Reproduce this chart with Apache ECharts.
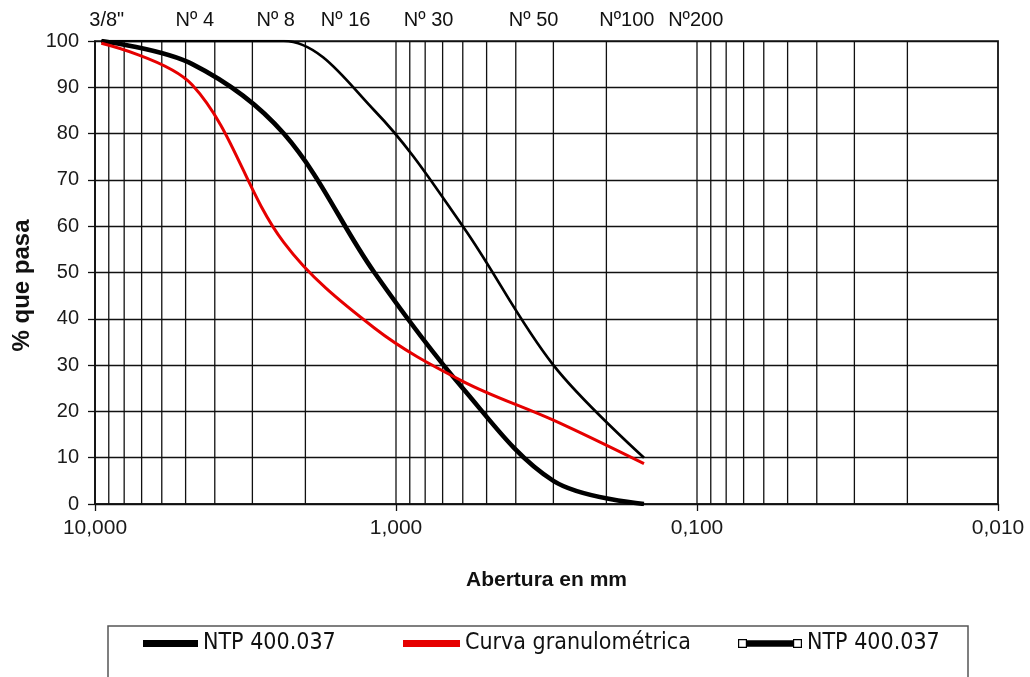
<!DOCTYPE html>
<html>
<head>
<meta charset="utf-8">
<script src="https://cdn.jsdelivr.net/npm/echarts@6/dist/echarts.min.js"></script>
<style>
  html, body { margin: 0; padding: 0; background: #ffffff; }
  #chart { width: 1030px; height: 677px; }
</style>
</head>
<body>
<div id="chart"></div>
<script>
// Sieve openings (mm) and percent passing
const sieveMm      = [9.525, 4.75, 2.36, 1.18, 0.6, 0.3, 0.15];
const lowerLimit   = [100, 95, 80, 50, 25, 5, 0];        // NTP 400.037 lower band
const passing      = [99.5, 90.5, 56.5, 38, 26.5, 18.1, 8.7]; // grading curve
const upperLimit   = [100, 100, 100, 85, 60, 30, 10];   // NTP 400.037 upper band

// Sieve names printed above the plot
const sieveNames   = ['3/8"', 'Nº 4', 'Nº 8', 'Nº 16', 'Nº 30', 'Nº 50', 'Nº100', 'Nº200'];
// Opening (mm) over which each sieve name is centred
const sieveLabelAt = [9.14, 4.66, 2.51, 1.47, 0.779, 0.349, 0.171, 0.101];

const xMin = 0.01, xMax = 10;

// Log-cycle grid: 1..9 in every decade plus the upper bound
const logGrid = [];
[0.01, 0.1, 1].forEach(function (d) {
  for (let k = 1; k <= 9; k++) logGrid.push(+(d * k).toPrecision(6));
});
logGrid.push(xMax);

const pair = (xs, ys) => xs.map((x, i) => [x, ys[i]]);

const TXT = '"Liberation Sans", Arial, sans-serif';
const NARROW = '"Liberation Sans Narrow", "DejaVu Sans Condensed", sans-serif';

const chart = echarts.init(document.getElementById('chart'), null, { renderer: 'canvas' });

const legendText = { fontFamily: NARROW, fontSize: 23, color: '#111' };

chart.setOption({
  backgroundColor: '#ffffff',
  animation: false,
  grid: {
    left: 95, right: 32, top: 41, bottom: 173,
    show: true, borderColor: '#555', borderWidth: 2, backgroundColor: 'transparent'
  },
  xAxis: {
    type: 'log', logBase: 10, min: xMin, max: xMax, inverse: true,
    name: 'Abertura en mm', nameLocation: 'middle', nameGap: 66,
    nameTextStyle: { fontFamily: TXT, fontSize: 21, fontWeight: 'bold', color: '#111' },
    axisLine: { show: true, lineStyle: { color: '#111', width: 1.5 } },
    axisTick: { show: true, length: 7, inside: false, lineStyle: { color: '#111', width: 1.3 } },
    splitLine: { show: false },
    axisLabel: {
      margin: 14, fontFamily: TXT, fontSize: 21, color: '#1a1a1a',
      formatter: v => v.toFixed(3).replace('.', ',')
    }
  },
  yAxis: {
    type: 'value', min: 0, max: 100, interval: 10,
    name: '% que pasa', nameLocation: 'middle', nameGap: 61, nameRotate: 90,
    nameTextStyle: { fontFamily: TXT, fontSize: 24, fontWeight: 'bold', color: '#111', padding: [0, 26, 0, 0] },
    axisLine: { show: true, lineStyle: { color: '#111', width: 1.5 } },
    axisTick: { show: true, length: 7, inside: false, lineStyle: { color: '#111', width: 1.3 } },
    splitLine: { show: true, lineStyle: { color: '#111', width: 1.3 } },
    axisLabel: { margin: 16, fontFamily: TXT, fontSize: 20, color: '#1a1a1a' }
  },
  legend: [
    {
      left: 143, top: 632, padding: 0, orient: 'horizontal', selectedMode: false,
      itemWidth: 55, itemHeight: 7, itemStyle: { borderWidth: 0 },
      textStyle: legendText,
      data: [{ name: 'NTP 400.037', icon: 'rect' }]
    },
    {
      left: 403, top: 632, padding: 0, selectedMode: false,
      itemWidth: 57, itemHeight: 7, itemStyle: { borderWidth: 0 },
      textStyle: legendText,
      data: [{ name: 'Curva granulométrica', icon: 'rect' }]
    },
    {
      left: 738, top: 632, padding: 0, selectedMode: false,
      itemWidth: 64, itemHeight: 9, itemStyle: { borderWidth: 0 },
      textStyle: legendText,
      data: [{
        name: 'NTP 400.037',
        icon: 'path://M0,0L9,0L9,9L0,9Z M1.2,1.2L1.2,7.8L7.8,7.8L7.8,1.2Z M9,1.2L55,1.2L55,7.8L9,7.8Z M55,0L64,0L64,9L55,9Z M56.2,1.2L56.2,7.8L62.8,7.8L62.8,1.2Z'
      }]
    }
  ],
  graphic: [{
    type: 'rect', z: -1, silent: true,
    shape: { x: 108, y: 626, width: 860, height: 80 },
    style: { fill: '#ffffff', stroke: '#555', lineWidth: 1.5 }
  }],
  series: [
    {
      // vertical log-cycle grid
      type: 'custom', z: 1, silent: true, clip: false,
      data: logGrid.map(v => [v]),
      encode: { x: 0 },
      renderItem: function (params, api) {
        const v = api.value(0);
        const top = api.coord([v, 100]);
        const bot = api.coord([v, 0]);
        return {
          type: 'line',
          shape: { x1: top[0], y1: top[1], x2: bot[0], y2: bot[1] },
          style: { stroke: '#111', lineWidth: 1.3 }
        };
      }
    },
    {
      // sieve names above the plot
      type: 'custom', z: 2, silent: true, clip: false,
      data: sieveLabelAt.map((v, i) => [v, sieveNames[i]]),
      encode: { x: 0 },
      renderItem: function (params, api) {
        const v = api.value(0);
        const p = api.coord([v, 100]);
        return {
          type: 'text',
          style: {
            x: p[0], y: p[1] - 21,
            text: sieveNames[params.dataIndex],
            align: 'center', verticalAlign: 'middle',
            font: '20px ' + TXT, fill: '#111'
          }
        };
      }
    },
    {
      name: 'NTP 400.037', type: 'line', z: 4,
      data: pair(sieveMm, lowerLimit),
      smooth: 0.35, showSymbol: false, symbol: 'none',
      color: '#000',
      lineStyle: { color: '#000', width: 4.6 },
      itemStyle: { color: '#000' }
    },
    {
      name: 'Curva granulométrica', type: 'line', z: 5,
      data: pair(sieveMm, passing),
      smooth: 0.35, showSymbol: false, symbol: 'none',
      color: '#e60000',
      lineStyle: { color: '#e60000', width: 3 },
      itemStyle: { color: '#e60000' }
    },
    {
      name: 'NTP 400.037', type: 'line', z: 4,
      data: pair(sieveMm, upperLimit),
      smooth: 0.35, showSymbol: false, symbol: 'none',
      color: '#000',
      lineStyle: { color: '#000', width: 2.7 },
      itemStyle: { color: '#000' }
    }
  ]
});
</script>
</body>
</html>
